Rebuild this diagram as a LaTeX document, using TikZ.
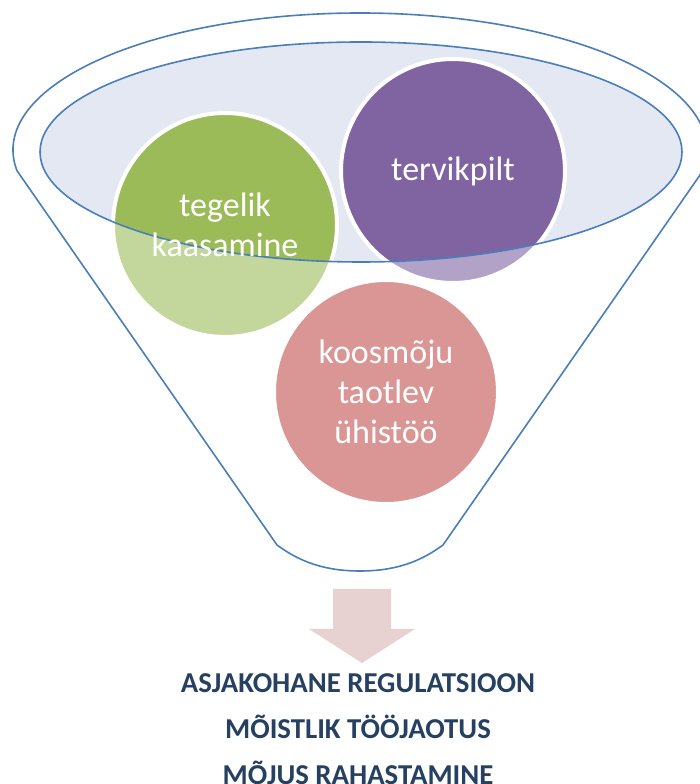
\documentclass[tikz,border=0pt]{standalone}
\usepackage{fontspec}
\setmainfont{Carlito}
\definecolor{lineblue}{HTML}{4A7EBB}
\definecolor{ellipsefill}{HTML}{E3E8F2}
\definecolor{greenfull}{HTML}{9BBB59}
\definecolor{greenlight}{HTML}{C3D69B}
\definecolor{purplefull}{HTML}{8064A2}
\definecolor{purplelight}{HTML}{B2A2C7}
\definecolor{pinkfill}{HTML}{D99694}
\definecolor{arrowfill}{HTML}{E8D1D1}
\definecolor{darkblue}{HTML}{254061}
\begin{document}
\begin{tikzpicture}[x=1pt,y=1pt,
  funnelline/.style={draw=lineblue,line width=1.6pt},
  disc/.style={circle,draw=white,line width=4pt,minimum size=224pt,inner sep=0pt},
  disctext/.style={text=white,align=center,font=\fontsize{34}{40}\selectfont},
  outtext/.style={text=darkblue,font=\bfseries\fontsize{28.8}{34}\selectfont,anchor=base}]
\useasboundingbox (0,0) rectangle (699,784);
\coordinate (oc) at (360,634);
\coordinate (ec) at (361,632);
% funnel outline
\draw[funnelline] (oc) ++(188.7:347pt and 137pt)
  arc[start angle=188.7,end angle=-8.7,x radius=347pt,y radius=137pt]
  -- (443,239) .. controls (420,222) and (395,213) .. (360,213)
  .. controls (325,213) and (300,222) .. (277,239) -- cycle;
% inner rim
\fill[ellipsefill] (ec) ellipse[x radius=321pt,y radius=110pt];
% discs
\node[disc,fill=greenlight,path picture={\fill[greenfull] (ec) ellipse[x radius=321pt,y radius=110pt];}] (green) at (225,559) {};
\node[disc,fill=purplelight,path picture={\fill[purplefull] (ec) ellipse[x radius=321pt,y radius=110pt];}] (purple) at (453,613) {};
\node[disc,fill=pinkfill] (pink) at (386,392) {};
\draw[funnelline] (ec) ellipse[x radius=321pt,y radius=110pt];
% disc texts
\node[disctext] (greentext) at (green.center) {tegelik\\kaasamine};
\node[disctext] (purpletext) at (purple.center) {tervikpilt};
\node[disctext] (pinktext) at (pink.center) {koosmõju\\taotlev\\ühistöö};
% arrow
\fill[arrowfill] (333,195) -- (391,195) -- (391,155) -- (415,155) -- (362,121) -- (309,155) -- (333,155) -- cycle;
% result texts
\node[outtext] (r1) at (358,91) {ASJAKOHANE REGULATSIOON};
\node[outtext] (r2) at (358,45) {MÕISTLIK TÖÖJAOTUS};
\node[outtext] (r3) at (358,-1) {MÕJUS RAHASTAMINE};
\end{tikzpicture}
\end{document}
